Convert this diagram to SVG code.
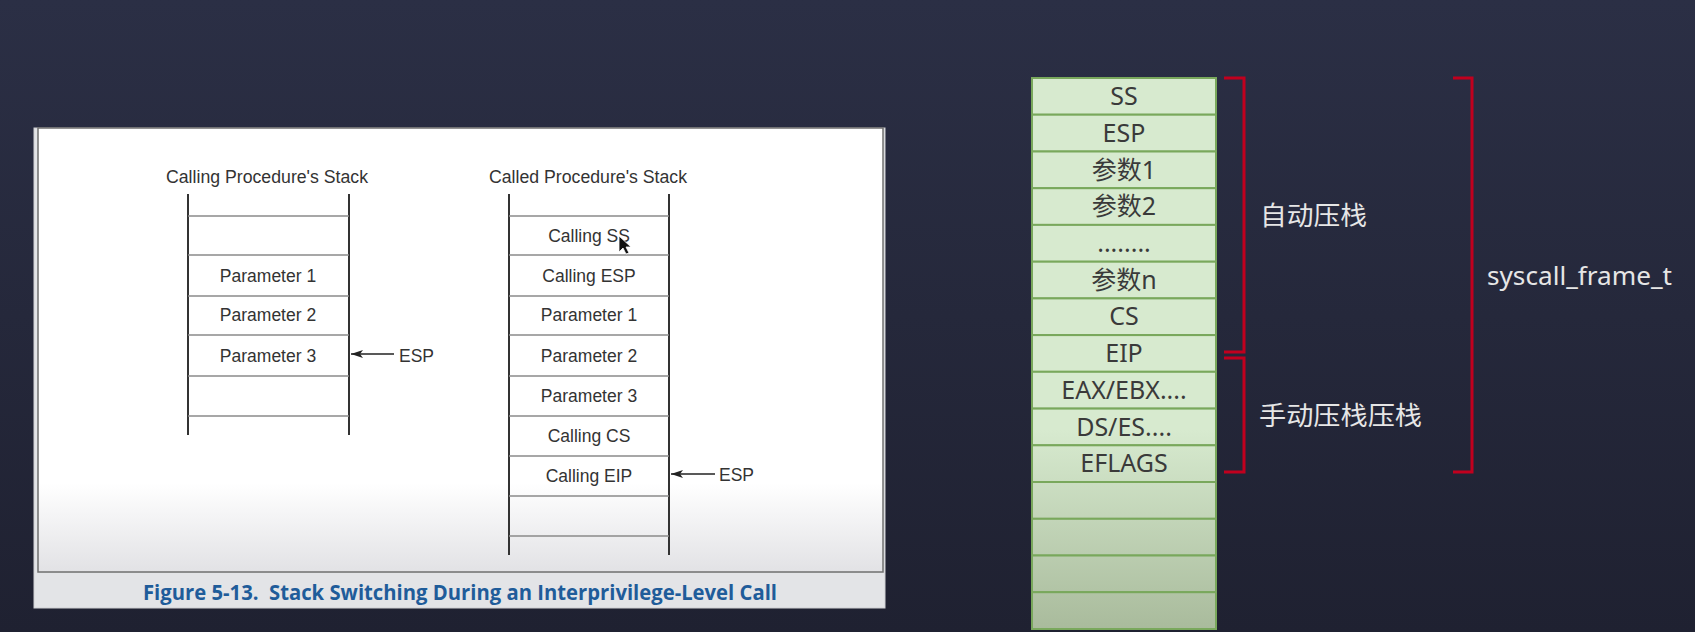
<svg xmlns="http://www.w3.org/2000/svg" width="1695" height="632" viewBox="0 0 1695 632">
  <defs>
    <linearGradient id="bg" x1="0" y1="0" x2="0" y2="1">
      <stop offset="0" stop-color="#2b2f45"/>
      <stop offset="1" stop-color="#1f2131"/>
    </linearGradient>
    <linearGradient id="paper" gradientUnits="userSpaceOnUse" x1="0" y1="128" x2="0" y2="572">
      <stop offset="0" stop-color="#ffffff"/>
      <stop offset="0.8" stop-color="#ffffff"/>
      <stop offset="1" stop-color="#e2e2e5"/>
    </linearGradient>
    <linearGradient id="cell" gradientUnits="userSpaceOnUse" x1="0" y1="430" x2="0" y2="629">
      <stop offset="0" stop-color="#d7eacf"/>
      <stop offset="1" stop-color="#a9bb9c"/>
    </linearGradient>
    <marker id="ah" markerWidth="12" markerHeight="8" refX="12" refY="4" orient="auto" markerUnits="userSpaceOnUse">
      <path d="M0,0 L12,4 L0,8 L3,4 z" fill="#222"/>
    </marker>
    <style>
      .fig { font-family: "Liberation Sans", Arial, sans-serif; font-size: 17.5px; fill: #333; text-anchor: middle; }
      .ttl { font-family: "Liberation Sans", Arial, sans-serif; font-size: 17.5px; fill: #333; }
      .esp { font-family: "Liberation Sans", Arial, sans-serif; font-size: 17.5px; fill: #333; }
      .vl { stroke: #333; stroke-width: 2; }
      .hl { stroke: #8a8a8a; stroke-width: 1.6; }
      .cap { font-family: "Open Sans", "DejaVu Sans", sans-serif; font-weight: 700; font-size: 21px; fill: #1f5c9a; white-space: pre; }
      .gc { fill: url(#cell); stroke: #79a85c; stroke-width: 2; }
      .gt { font-family: "Noto Sans", "Noto Sans CJK SC", sans-serif; font-size: 25px; fill: #3a3a3a; text-anchor: middle; }
      .wl { font-family: "Noto Sans", "Noto Sans CJK SC", sans-serif; font-size: 26px; fill: #e6e6e6; }
      .br { fill: none; stroke: #c1001e; stroke-width: 3; }
    </style>
  </defs>

  <rect x="0" y="0" width="1695" height="632" fill="url(#bg)"/>

  <!-- Figure panel -->
  <g id="figure-panel">
    <rect x="34" y="128" width="851" height="480" fill="#e3e4e7" stroke="#cfd0d3" stroke-width="1"/>
    <rect x="38" y="128" width="845" height="444" fill="url(#paper)" stroke="#6f6f6f" stroke-width="1.5"/>
    <text class="cap" x="143" y="600" textLength="634" lengthAdjust="spacingAndGlyphs">Figure 5-13.  Stack Switching During an Interprivilege-Level Call</text>
  </g>

  <!-- Calling procedure's stack -->
  <g id="calling-stack">
    <text class="ttl" x="166" y="183" textLength="202" lengthAdjust="spacingAndGlyphs">Calling Procedure's Stack</text>
    <line class="vl" x1="188" y1="194" x2="188" y2="435"/>
    <line class="vl" x1="349" y1="194" x2="349" y2="435"/>
    <line class="hl" x1="188" y1="216" x2="349" y2="216"/>
    <line class="hl" x1="188" y1="255" x2="349" y2="255"/>
    <line class="hl" x1="188" y1="296" x2="349" y2="296"/>
    <line class="hl" x1="188" y1="335" x2="349" y2="335"/>
    <line class="hl" x1="188" y1="376" x2="349" y2="376"/>
    <line class="hl" x1="188" y1="416" x2="349" y2="416"/>
    <g id="cl-p1"><text class="fig" x="268" y="282">Parameter 1</text></g>
    <g id="cl-p2"><text class="fig" x="268" y="321">Parameter 2</text></g>
    <g id="cl-p3"><text class="fig" x="268" y="362">Parameter 3</text></g>
    <g id="cl-esp"><text class="esp" x="399" y="362">ESP</text></g>
  </g>

  <!-- Called procedure's stack -->
  <g id="called-stack">
    <text class="ttl" x="489" y="183" textLength="198" lengthAdjust="spacingAndGlyphs">Called Procedure's Stack</text>
    <line class="vl" x1="509" y1="194" x2="509" y2="555"/>
    <line class="vl" x1="669" y1="194" x2="669" y2="555"/>
    <line class="hl" x1="509" y1="216" x2="669" y2="216"/>
    <line class="hl" x1="509" y1="255" x2="669" y2="255"/>
    <line class="hl" x1="509" y1="296" x2="669" y2="296"/>
    <line class="hl" x1="509" y1="335" x2="669" y2="335"/>
    <line class="hl" x1="509" y1="376" x2="669" y2="376"/>
    <line class="hl" x1="509" y1="416" x2="669" y2="416"/>
    <line class="hl" x1="509" y1="456" x2="669" y2="456"/>
    <line class="hl" x1="509" y1="496" x2="669" y2="496"/>
    <line class="hl" x1="509" y1="536" x2="669" y2="536"/>
    <g id="cd-ss"><text class="fig" x="589" y="242">Calling SS</text></g>
    <g id="cd-esp"><text class="fig" x="589" y="282">Calling ESP</text></g>
    <g id="cd-p1"><text class="fig" x="589" y="321">Parameter 1</text></g>
    <g id="cd-p2"><text class="fig" x="589" y="362">Parameter 2</text></g>
    <g id="cd-p3"><text class="fig" x="589" y="402">Parameter 3</text></g>
    <g id="cd-cs"><text class="fig" x="589" y="442">Calling CS</text></g>
    <g id="cd-eip"><text class="fig" x="589" y="482">Calling EIP</text></g>
    <g id="cd-esp-label"><text class="esp" x="719" y="481">ESP</text></g>
  </g>

  <!-- mouse cursor -->
  <polygon points="619,236 619,252 623,248 626,254 629,253 626,247 631,247" fill="#111" stroke="#fff" stroke-width="0.8"/>

  <!-- Connectors -->
  <g id="connectors">
    <line x1="394" y1="354" x2="351" y2="354" stroke="#222" stroke-width="1.3" marker-end="url(#ah)"/>
    <line x1="715" y1="474" x2="671" y2="474" stroke="#222" stroke-width="1.3" marker-end="url(#ah)"/>
  </g>

  <!-- Right-side frame stack -->
  <g id="frame-stack">
    <g id="r-ss"><rect class="gc" x="1032" y="78" width="184" height="36.7"/><text class="gt" x="1124" y="105">SS</text></g>
    <g id="r-esp"><rect class="gc" x="1032" y="114.7" width="184" height="36.8"/><text class="gt" x="1124" y="141.7">ESP</text></g>
    <g id="r-p1"><rect class="gc" x="1032" y="151.5" width="184" height="36.7"/><text class="gt" x="1124" y="178.5">参数1</text></g>
    <g id="r-p2"><rect class="gc" x="1032" y="188.2" width="184" height="36.7"/><text class="gt" x="1124" y="215.2">参数2</text></g>
    <g id="r-dots"><rect class="gc" x="1032" y="224.9" width="184" height="36.8"/><text class="gt" x="1124" y="252">........</text></g>
    <g id="r-pn"><rect class="gc" x="1032" y="261.7" width="184" height="36.7"/><text class="gt" x="1124" y="288.7">参数n</text></g>
    <g id="r-cs"><rect class="gc" x="1032" y="298.4" width="184" height="36.7"/><text class="gt" x="1124" y="325.4">CS</text></g>
    <g id="r-eip"><rect class="gc" x="1032" y="335.1" width="184" height="36.7"/><text class="gt" x="1124" y="362.1">EIP</text></g>
    <g id="r-eax"><rect class="gc" x="1032" y="371.8" width="184" height="36.8"/><text class="gt" x="1124" y="398.8">EAX/EBX....</text></g>
    <g id="r-ds"><rect class="gc" x="1032" y="408.6" width="184" height="36.7"/><text class="gt" x="1124" y="435.6">DS/ES....</text></g>
    <g id="r-eflags"><rect class="gc" x="1032" y="445.3" width="184" height="36.7"/><text class="gt" x="1124" y="472.3">EFLAGS</text></g>
    <g id="r-e1"><rect class="gc" x="1032" y="482" width="184" height="36.8"/></g>
    <g id="r-e2"><rect class="gc" x="1032" y="518.8" width="184" height="36.7"/></g>
    <g id="r-e3"><rect class="gc" x="1032" y="555.5" width="184" height="36.7"/></g>
    <g id="r-e4"><rect class="gc" x="1032" y="592.2" width="184" height="36.8"/></g>
  </g>

  <!-- Brackets -->
  <g id="brackets">
    <path class="br" d="M1224,78 H1244 V352 H1224"/>
    <path class="br" d="M1224,358 H1244 V472 H1224"/>
    <path class="br" d="M1453,78 H1472 V472 H1453"/>
  </g>

  <g id="label-auto"><text class="wl" x="1260" y="225" textLength="107" lengthAdjust="spacingAndGlyphs">自动压栈</text></g>
  <g id="label-manual"><text class="wl" x="1259" y="425" textLength="163" lengthAdjust="spacingAndGlyphs">手动压栈压栈</text></g>
  <g id="label-frame"><text class="wl" x="1487" y="285" textLength="185" lengthAdjust="spacingAndGlyphs">syscall_frame_t</text></g>
</svg>
